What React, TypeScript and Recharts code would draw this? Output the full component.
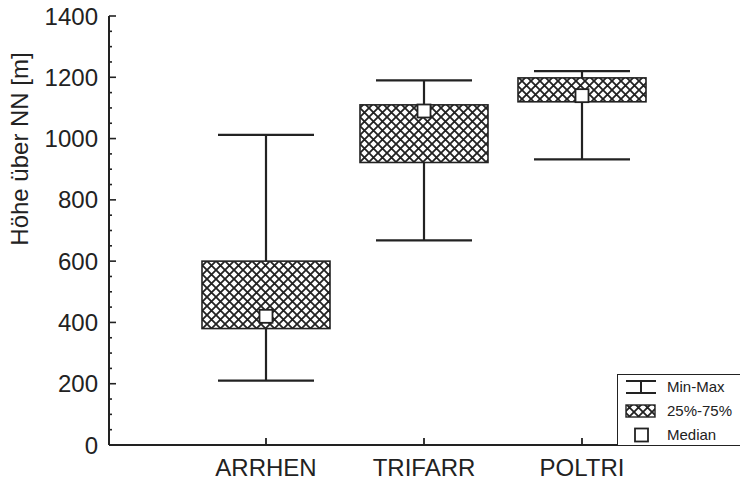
import React from 'react';
import { ComposedChart, Bar, XAxis, YAxis, Legend } from 'recharts';

// Höhenverteilung je Gesellschaft (Box-Whisker)
const groups = ['ARRHEN', 'TRIFARR', 'POLTRI'];
const minValues = [210, 668, 932];
const q1Values = [380, 922, 1120];
const medianValues = [420, 1090, 1140];
const q3Values = [600, 1110, 1198];
const maxValues = [1012, 1190, 1220];

const majorTicks = [0, 200, 400, 600, 800, 1000, 1200, 1400];
const yTicks = Array.from({ length: 29 }, (_, i) => i * 50);

const legendItems = ['Min-Max', '25%-75%', 'Median'];

const INK = '#222';
const FONT = '"Liberation Sans", Arial, sans-serif';

const data = groups.map((name, i) => ({
    name,
    min: minValues[i],
    q1: q1Values[i],
    median: medianValues[i],
    q3: q3Values[i],
    max: maxValues[i],
}));

const BoxShape = (props: any) => {
    const { x, y, width, height, payload } = props;
    if (payload == null) return null;
    const { min, q1, median, q3, max } = payload;
    // linear scale: y = pixel of max, y + height = pixel of min
    const toPx = (v: number) => y + (height * (max - v)) / (max - min);
    const cx = x + width / 2;
    const capHalf = 48;
    const sq = 13;
    return (
        <g>
            <line x1={cx} x2={cx} y1={toPx(max)} y2={toPx(min)} stroke={INK} strokeWidth={2.2} />
            <line x1={cx - capHalf} x2={cx + capHalf} y1={toPx(max)} y2={toPx(max)} stroke={INK} strokeWidth={2.2} />
            <line x1={cx - capHalf} x2={cx + capHalf} y1={toPx(min)} y2={toPx(min)} stroke={INK} strokeWidth={2.2} />
            <rect
                x={x}
                y={toPx(q3)}
                width={width}
                height={toPx(q1) - toPx(q3)}
                fill="url(#hatch)"
                stroke={INK}
                strokeWidth={1.6}
            />
            <rect
                x={cx - sq / 2}
                y={toPx(median) - sq / 2}
                width={sq}
                height={sq}
                fill="#fff"
                stroke={INK}
                strokeWidth={1.8}
            />
        </g>
    );
};

const LeftTick = (props: any) => {
    const { x, y, payload } = props;
    const isMajor = majorTicks.includes(payload.value);
    return (
        <g>
            <path d={`M${x},${y}h${isMajor ? 7 : 3}`} stroke={INK} strokeWidth={1.6} fill="none" />
            {isMajor && (
                <text x={x - 11} y={y + 8.5} textAnchor="end" fill={INK} fontSize={24} fontFamily={FONT}>
                    {payload.value}
                </text>
            )}
        </g>
    );
};

const RightTick = (props: any) => {
    const { x, y, payload } = props;
    const isMajor = majorTicks.includes(payload.value);
    return <path d={`M${x},${y}h${isMajor ? -7 : -3}`} stroke={INK} strokeWidth={1.6} fill="none" />;
};

const BottomTick = (props: any) => {
    const { x, y, payload } = props;
    return (
        <g>
            <path d={`M${x},${y}v-7`} stroke={INK} strokeWidth={1.8} fill="none" />
            <text x={x} y={y + 31} textAnchor="middle" fill={INK} fontSize={24} fontFamily={FONT}>
                {payload.value}
            </text>
        </g>
    );
};

const TopTick = (props: any) => {
    const { x, y } = props;
    return <path d={`M${x},${y}v7`} stroke={INK} strokeWidth={1.8} fill="none" />;
};

const AxisTitle = (props: any) => {
    const { viewBox } = props;
    const tx = (viewBox?.x ?? 0) + 28;
    const ty = (viewBox?.y ?? 16) + 133;
    return (
        <text
            x={tx}
            y={ty}
            transform={`rotate(-90 ${tx} ${ty})`}
            textAnchor="middle"
            fill={INK}
            fontSize={24}
            fontFamily={FONT}
        >
            Höhe über NN [m]
        </text>
    );
};

const LegendIcon = ({ index }: { index: number }) => {
    if (index === 0) {
        return (
            <svg width={32} height={16} style={{ display: 'block' }}>
                <line x1={1} x2={31} y1={2} y2={2} stroke={INK} strokeWidth={2} />
                <line x1={16} x2={16} y1={2} y2={14} stroke={INK} strokeWidth={2} />
                <line x1={1} x2={31} y1={14} y2={14} stroke={INK} strokeWidth={2} />
            </svg>
        );
    }
    if (index === 1) {
        return (
            <svg width={32} height={16} style={{ display: 'block' }}>
                <rect x={1} y={2} width={29} height={12} fill="url(#hatch)" stroke={INK} strokeWidth={1.4} />
            </svg>
        );
    }
    return (
        <svg width={32} height={16} style={{ display: 'block' }}>
            <rect x={10} y={1.5} width={13} height={13} fill="#fff" stroke={INK} strokeWidth={1.8} />
        </svg>
    );
};

const LegendBox = () => (
    <div
        style={{
            width: 124,
            height: 72,
            border: `1.5px solid ${INK}`,
            boxSizing: 'border-box',
            background: '#fff',
            padding: '0 0 0 7px',
            fontFamily: FONT,
            color: INK,
            textAlign: 'left',
        }}
    >
        {legendItems.map((label, i) => (
            <div key={label} style={{ display: 'flex', alignItems: 'center', height: 24 }}>
                <LegendIcon index={i} />
                <span style={{ marginLeft: 10, fontSize: 15, lineHeight: '16px' }}>{label}</span>
            </div>
        ))}
    </div>
);

export default function App() {
    return (
        <div style={{ position: 'absolute', left: 0, top: 0, width: 740, height: 483, background: '#fff' }}>
            <svg width={0} height={0} style={{ position: 'absolute' }}>
                <defs>
                    <pattern id="hatch" patternUnits="userSpaceOnUse" width={9} height={9}>
                        <rect width={9} height={9} fill="#fff" />
                        <path d="M-2,-2 L11,11 M11,-2 L-2,11" stroke={INK} strokeWidth={1.8} />
                    </pattern>
                </defs>
            </svg>
            <ComposedChart width={740} height={483} data={data} margin={{ top: 16, right: 0, bottom: 0, left: 0 }}>
                <XAxis
                    dataKey="name"
                    height={38}
                    padding={{ left: 78, right: 79 }}
                    axisLine={{ stroke: INK, strokeWidth: 2 }}
                    tickLine={false}
                    tickSize={0}
                    tickMargin={0}
                    tick={BottomTick}
                    interval={0}
                />
                <XAxis
                    xAxisId="top"
                    orientation="top"
                    dataKey="name"
                    height={0}
                    padding={{ left: 78, right: 79 }}
                    axisLine={{ stroke: INK, strokeWidth: 2 }}
                    tickLine={false}
                    tickSize={0}
                    tickMargin={0}
                    tick={TopTick}
                    interval={0}
                />
                <YAxis
                    width={109}
                    domain={[0, 1400]}
                    ticks={yTicks}
                    interval={0}
                    axisLine={{ stroke: INK, strokeWidth: 2 }}
                    tickLine={false}
                    tickSize={0}
                    tickMargin={0}
                    tick={LeftTick}
                    label={<AxisTitle />}
                />
                <YAxis
                    yAxisId="right"
                    orientation="right"
                    width={0}
                    domain={[0, 1400]}
                    ticks={yTicks}
                    interval={0}
                    axisLine={{ stroke: INK, strokeWidth: 2 }}
                    tickLine={false}
                    tickSize={0}
                    tickMargin={0}
                    tick={RightTick}
                />
                <Bar
                    dataKey={(d: any) => [d.min, d.max]}
                    barSize={128}
                    shape={BoxShape}
                    isAnimationActive={false}
                />
                <Legend
                    layout="vertical"
                    align="center"
                    verticalAlign="middle"
                    content={<LegendBox />}
                    wrapperStyle={{ position: 'absolute', left: 617, top: 374, width: 124, height: 72 }}
                />
            </ComposedChart>
        </div>
    );
}
